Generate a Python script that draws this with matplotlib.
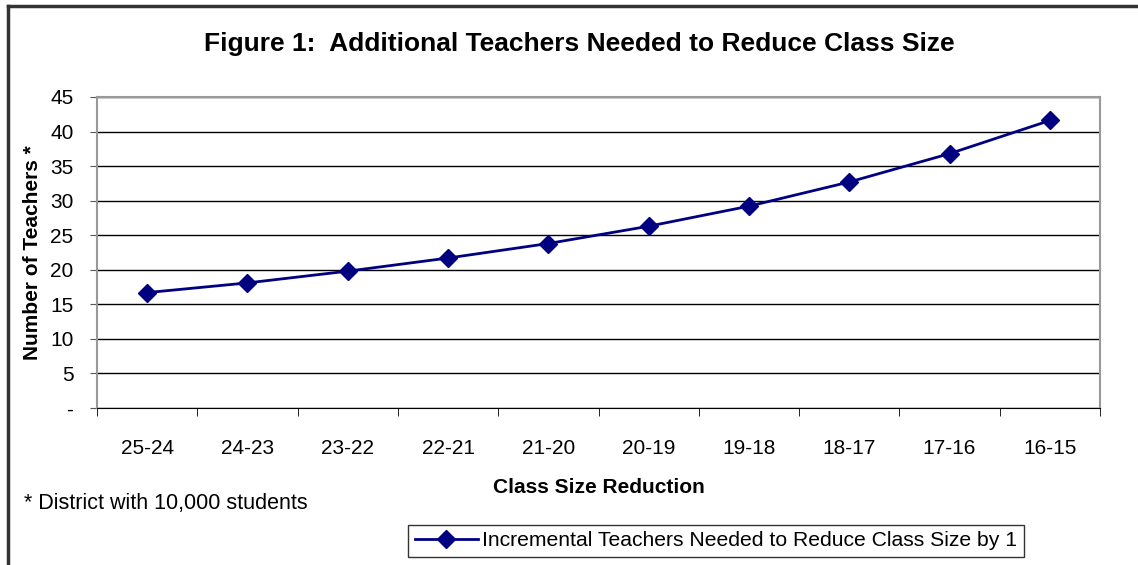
import matplotlib.pyplot as plt
from matplotlib.lines import Line2D
import numpy as np

categories = ['25-24', '24-23', '23-22', '22-21', '21-20', '20-19', '19-18', '18-17', '17-16', '16-15']
teachers = [16.7, 18.1, 19.8, 21.7, 23.8, 26.3, 29.2, 32.7, 36.8, 41.6]
series_label = 'Incremental Teachers Needed to Reduce Class Size by 1'

plt.rcParams['font.family'] = ['Liberation Sans', 'DejaVu Sans']

W, H = 1138, 565
fig = plt.figure(figsize=(W / 100, H / 100), dpi=100)
ax = fig.add_axes([97 / W, 1 - 408 / H, 1003 / W, 311 / H])

x = np.arange(len(categories))
line, = ax.plot(x, teachers, color='#000080', lw=2, marker='D', markersize=9,
                label=series_label)

ax.set_xlim(-0.5, len(categories) - 0.5)
ax.set_ylim(0, 45)
ax.set_yticks(np.arange(0, 46, 5))
ax.set_yticklabels(['-'] + [str(v) for v in range(5, 46, 5)], fontsize=15)
ax.yaxis.grid(True, color='black', lw=1)
ax.set_axisbelow(True)
ax.tick_params(axis='y', length=5, color='#555555', pad=12)

ax.set_xticks(x)
ax.set_xticklabels(categories, fontsize=15)
ax.set_xticks(np.arange(-0.5, len(categories)), minor=True)
ax.tick_params(axis='x', which='major', length=0, pad=22)
ax.tick_params(axis='x', which='minor', length=6, color='black', direction='out')

for side in ['top', 'right', 'left']:
    ax.spines[side].set_color('#999999')
    ax.spines[side].set_linewidth(1.5)
ax.spines['bottom'].set_color('black')

ax.set_xlabel('Class Size Reduction', fontsize=15, fontweight='bold', labelpad=15)
ax.set_ylabel('Number of Teachers *', fontsize=15, fontweight='bold', labelpad=6)

fig.text(579 / W, 1 - 44 / H, 'Figure 1:  Additional Teachers Needed to Reduce Class Size',
         ha='center', va='center', fontsize=19, fontweight='bold')
fig.text(24 / W, 1 - 504 / H, '* District with 10,000 students', fontsize=15.5, va='center')

leg = fig.legend(handles=[line], loc='center', bbox_to_anchor=(716 / W, 1 - 541 / H),
                 fontsize=15.2, frameon=True, fancybox=False, edgecolor='black',
                 handlelength=3, handletextpad=0.2, borderpad=0.3)
leg.get_frame().set_linewidth(1)

# outer chart frame (top and left edges)
fig.lines.append(Line2D([8 / W, 1], [1 - 6 / H, 1 - 6 / H], transform=fig.transFigure,
                        color='#333333', lw=2.5))
fig.lines.append(Line2D([8 / W, 8 / W], [0, 1 - 6 / H], transform=fig.transFigure,
                        color='#333333', lw=2.5))

fig.savefig('out.png', dpi=100)
